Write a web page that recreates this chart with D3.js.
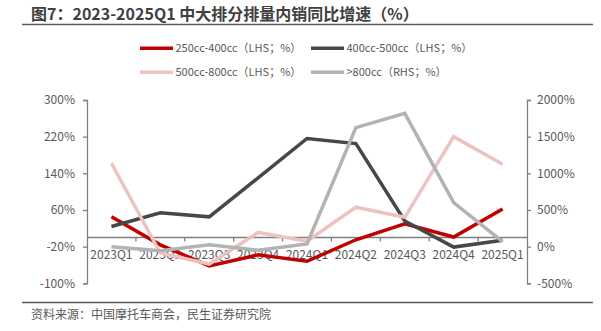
<!DOCTYPE html>
<html><head><meta charset="utf-8">
<script src="https://cdn.jsdelivr.net/npm/d3@7/dist/d3.min.js"></script>
<style>
body{margin:0;background:#fff;}
svg{display:block;font-family:"Noto Sans CJK SC","Noto Sans",sans-serif;}
</style></head>
<body>
<svg id="c" width="601" height="331"></svg>
<script>
const categories = ["2023Q1","2023Q2","2023Q3","2023Q4","2024Q1","2024Q2","2024Q3","2024Q4","2025Q1"];
const s250_400 = [45, -16, -62, -38, -52, -5, 30, 1, 62];
const s400_500 = [24, 54, 45, 130, 216, 205, 36, -21, -6];
const s500_800 = [162, -34, -58, 11, -8, 66, 44, 220, 160];
const s800plus = [0, -55, 24, -50, 36, 1623, 1818, 600, 68];
const leftTicks = [-100, -20, 60, 140, 220, 300];
const rightTicks = [-500, 0, 500, 1000, 1500, 2000];
const legendNames = ["250cc-400cc（LHS；%）","400cc-500cc（LHS；%）","500cc-800cc（LHS；%）",">800cc（RHS；%）"];
const title = "图7：2023-2025Q1 中大排分排量内销同比增速（%）";
const source = "资料来源：中国摩托车商会，民生证券研究院";

const svg = d3.select("#c");
const L = 87, R = 527, T = 100, B = 283.3;
const x = d3.scaleBand().domain(categories).range([L, R]).padding(0);
const yL = d3.scaleLinear().domain([-100, 300]).range([B, T]);
const yR = d3.scaleLinear().domain([-500, 2000]).range([B, T]);
const axisCol = "#7f7f7f", textCol = "#595959";

// title
svg.append("text").attr("x", 31).attr("y", 20).attr("font-size", 16).attr("font-weight", "bold")
  .attr("fill", "#404040").text(title);
svg.append("line").attr("x1", 22).attr("x2", 593).attr("y1", 24.5).attr("y2", 24.5)
  .attr("stroke", "#595959").attr("stroke-width", 1.5);
// footer
svg.append("line").attr("x1", 22).attr("x2", 593).attr("y1", 302.5).attr("y2", 302.5)
  .attr("stroke", "#595959").attr("stroke-width", 1.5);
svg.append("text").attr("x", 31).attr("y", 319).attr("font-size", 12).attr("fill", textCol).text(source);

// legend
const colors = ["#C00000", "#474747", "#EDC2C2", "#B3B3B3"];
const legPos = [[140, 48.3], [311, 48.3], [140, 72.3], [311, 72.3]];
legendNames.forEach((n, i) => {
  const g = svg.append("g").attr("transform", `translate(${legPos[i][0]},${legPos[i][1]})`);
  g.append("line").attr("x1", 0).attr("x2", 33).attr("stroke", colors[i]).attr("stroke-width", 3.5);
  g.append("text").attr("x", 35.5).attr("dy", "0.35em").attr("font-size", 11).attr("fill", textCol).text(n);
});

// left axis
const gl = svg.append("g").attr("transform", `translate(${L},0)`)
  .call(d3.axisLeft(yL).tickValues(leftTicks).tickSize(4).tickPadding(8).tickFormat(d => d + "%"));
// right axis
const gr = svg.append("g").attr("transform", `translate(${R},0)`)
  .call(d3.axisRight(yR).tickValues(rightTicks).tickSize(4).tickPadding(6).tickFormat(d => d + "%"));
[gl, gr].forEach(g => {
  g.selectAll("path,line").attr("stroke", axisCol).attr("stroke-width", 1.3);
  g.selectAll("text").attr("fill", textCol).attr("font-size", 12).attr("font-family", '"Noto Sans CJK SC","Noto Sans",sans-serif');
});

// x axis at left 0
const y0 = yL(0);
svg.append("line").attr("x1", L).attr("x2", R).attr("y1", y0).attr("y2", y0)
  .attr("stroke", axisCol).attr("stroke-width", 1.3);
const bounds = categories.slice(1).map(c => x(c));
svg.selectAll(".xt").data(bounds).enter().append("line")
  .attr("x1", d => d).attr("x2", d => d).attr("y1", y0).attr("y2", y0 + 4)
  .attr("stroke", axisCol).attr("stroke-width", 1.3);
svg.selectAll(".xl").data(categories).enter().append("text")
  .attr("x", d => x(d) + x.bandwidth() / 2).attr("y", y0 + 17).attr("dy", "0.35em")
  .attr("text-anchor", "middle").attr("font-size", 12).attr("fill", textCol).text(d => d);

// lines
const cx = d => x(d) + x.bandwidth() / 2;
const series = [
  {v: s250_400, y: yL, c: colors[0]},
  {v: s400_500, y: yL, c: colors[1]},
  {v: s500_800, y: yL, c: colors[2]},
  {v: s800plus, y: yR, c: colors[3]}
];
series.forEach(s => {
  const line = d3.line().x((d, i) => cx(categories[i])).y(d => s.y(d));
  svg.append("path").datum(s.v).attr("d", line).attr("fill", "none")
    .attr("stroke", s.c).attr("stroke-width", 3.5).attr("stroke-linejoin", "miter");
});
</script>
</body></html>
